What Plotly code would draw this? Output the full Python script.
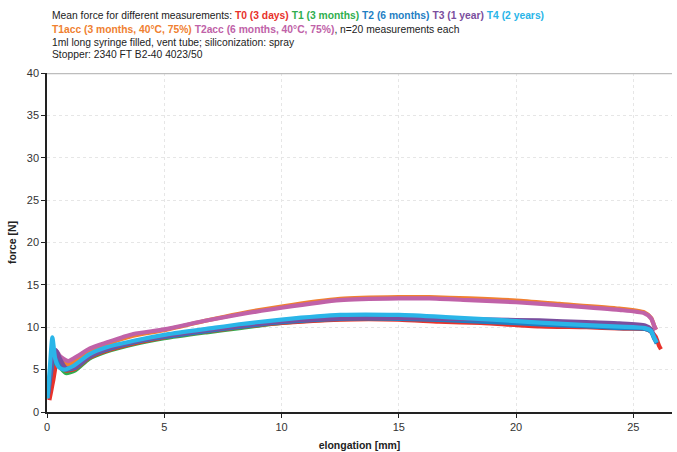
import plotly.graph_objects as go

# ---- data ----
names = ["T1acc", "T2acc", "T1", "T0", "T2", "T3", "T4"]
colors = {"T0": "#e8322b", "T1": "#2fae4e", "T2": "#1f7fc4", "T3": "#7a4e9e",
          "T4": "#2ab5e8", "T1acc": "#f08030", "T2acc": "#c062a8"}

x_T0 = [0.1, 0.18, 0.27, 0.4, 0.55, 0.8, 1.2, 1.8, 2.5, 3.7, 5, 6.8, 8.2, 10, 12.5, 15, 16.7, 18.5, 21, 23, 24.4, 25.5, 25.75, 25.95, 26.1, 26.18]
y_T0 = [1.4, 2.5, 3.8, 5.5, 5.4, 4.9, 5.1, 6.4, 7.2, 8.1, 8.8, 9.5, 10.0, 10.5, 10.9, 10.9, 10.65, 10.5, 10.1, 10.0, 9.85, 9.8, 9.5, 8.9, 7.8, 7.4]

x_grp = [0.03, 0.15, 0.26, 0.38, 0.55, 0.8, 1.2, 1.8, 2.5, 3.7, 5, 6.8, 8.2, 10, 12.5, 15, 17, 19, 21, 23, 24.4, 25.5, 25.75, 25.9, 26.0]
y_T1 = [1.6, 3.6, 5.0, 5.9, 5.3, 4.6, 4.9, 6.3, 7.1, 8.0, 8.7, 9.4, 9.9, 10.5, 10.95, 11.05, 10.95, 10.7, 10.45, 10.2, 10.05, 9.9, 9.6, 8.8, 8.3]
y_T2 = [1.7, 4.3, 6.0, 6.7, 5.8, 5.0, 5.2, 6.5, 7.3, 8.2, 8.85, 9.55, 10.05, 10.6, 11.0, 11.0, 10.85, 10.6, 10.35, 10.1, 9.9, 9.8, 9.5, 8.6, 8.1]
y_T3 = [1.8, 4.8, 6.8, 7.3, 6.3, 5.2, 5.3, 6.6, 7.4, 8.3, 8.95, 9.65, 10.15, 10.7, 11.05, 11.1, 11.0, 10.9, 10.8, 10.6, 10.45, 10.2, 9.8, 8.8, 8.3]

x_T4 = [0.02, 0.12, 0.23, 0.35, 0.5, 0.72, 1.1, 1.8, 2.5, 3.7, 5, 6.8, 8.2, 10, 12.5, 15, 17, 19, 21, 23, 24.4, 25.5, 25.75, 25.9, 26.0]
y_T4 = [1.6, 5.2, 8.8, 6.3, 5.3, 5.0, 5.4, 6.8, 7.6, 8.4, 9.1, 9.8, 10.35, 10.9, 11.45, 11.45, 11.2, 10.9, 10.55, 10.25, 10.07, 9.9, 9.6, 8.7, 8.2]

x_acc = [0.04, 0.15, 0.27, 0.4, 0.55, 0.9, 1.3, 1.83, 2.54, 3.68, 5, 6.8, 8.2, 10, 12.5, 15, 16.3, 18, 20, 21.85, 24.4, 25.47, 25.76, 25.9, 25.97]
y_T2acc = [1.7, 4.5, 7.0, 7.2, 6.6, 6.0, 6.6, 7.5, 8.2, 9.2, 9.75, 10.8, 11.5, 12.3, 13.2, 13.4, 13.4, 13.2, 12.95, 12.6, 12.05, 11.65, 11.05, 10.1, 9.7]
y_T1acc = [1.7, 4.0, 6.4, 6.8, 6.2, 5.6, 6.2, 7.2, 8.0, 9.0, 9.65, 10.8, 11.6, 12.45, 13.35, 13.55, 13.55, 13.4, 13.15, 12.75, 12.2, 11.75, 11.1, 10.1, 9.7]

series = {
    "T1acc": (x_acc, y_T1acc),
    "T2acc": (x_acc, y_T2acc),
    "T1": (x_grp, y_T1),
    "T0": (x_T0, y_T0),
    "T2": (x_grp, y_T2),
    "T3": (x_grp, y_T3),
    "T4": (x_T4, y_T4),
}

x_ticks = [0, 5, 10, 15, 20, 25]
y_ticks = [0, 5, 10, 15, 20, 25, 30, 35, 40]

fig = go.Figure()
for n in names:
    xs, ys = series[n]
    fig.add_trace(go.Scatter(x=xs, y=ys, mode="lines", name=n,
                             line=dict(color=colors[n], width=4.2, shape="spline", smoothing=0.6)))

W, H = 677, 452
L, R, T, B = 47, 5, 73, 40

def c(n, t):
    return f"<b><span style='color:{colors[n]}'>{t}</span></b>"

lines = [
    "Mean force for different measurements: " + c("T0", "T0 (3 days)") + " " + c("T1", "T1 (3 months)") + " "
    + c("T2", "T2 (6 months)") + " " + c("T3", "T3 (1 year)") + " " + c("T4", "T4 (2 years)"),
    c("T1acc", "T1acc (3 months, 40°C, 75%)") + " " + c("T2acc", "T2acc (6 months, 40°C, 75%)") + ", n=20 measurements each",
    "1ml long syringe filled, vent tube; siliconization: spray",
    "Stopper: 2340 FT B2-40 4023/50",
]
line_y = [16, 29.2, 42.2, 54.0]
ph = H - T - B
ann = []
for t, py in zip(lines, line_y):
    ann.append(dict(text=t, xref="paper", yref="paper", x=(50 - L) / (W - L - R), y=(H - B - py) / ph,
                    xanchor="left", yanchor="middle", showarrow=False, align="left",
                    font=dict(family="Liberation Sans, Arial", size=10.3, color="#222")))

fig.update_layout(
    width=W, height=H, margin=dict(l=L, r=R, t=T, b=B),
    paper_bgcolor="white", plot_bgcolor="white", showlegend=False,
    font=dict(family="Liberation Sans, Arial", size=11, color="#333"),
    annotations=ann,
    xaxis=dict(range=[0, 26.65], tickvals=x_ticks, showgrid=True, gridcolor="#e6e6e6", griddash="dot",
               showline=True, linecolor="#222", linewidth=1.5, ticks="outside", ticklen=4, tickcolor="#222",
               zeroline=False, automargin=False,
               title=dict(text="<b>elongation [mm]</b>", font=dict(size=10.5, color="#222"), standoff=10)),
    yaxis=dict(range=[0, 40], tickvals=y_ticks, showgrid=True, gridcolor="#e6e6e6", griddash="dot",
               showline=True, linecolor="#222", linewidth=1.5, ticks="outside", ticklen=4, tickcolor="#222",
               zeroline=False, automargin=False,
               title=dict(text="<b>force [N]</b>", font=dict(size=10.5, color="#222"), standoff=8)),
    shapes=[dict(type="line", xref="paper", yref="y", x0=0, x1=1, y0=40, y1=40,
                 line=dict(color="#bdbdbd", width=2.5))],
)

fig.write_html("out.html")
